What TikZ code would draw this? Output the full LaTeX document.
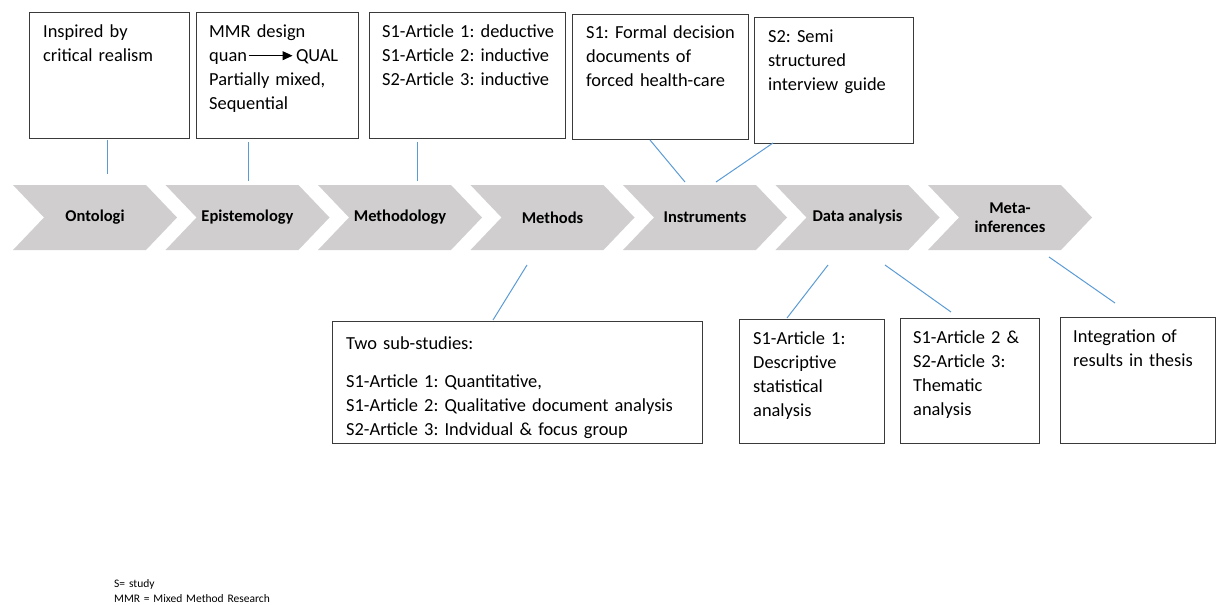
\documentclass[tikz,border=0pt]{standalone}
\usepackage{fontspec}
\setmainfont{Carlito}
\usetikzlibrary{arrows.meta,calc}
\definecolor{chevfill}{HTML}{D0CECE}
\definecolor{linkblue}{HTML}{5B9BD5}
\definecolor{boxline}{HTML}{3A3A3A}
\frenchspacing

\begin{document}
\begin{tikzpicture}[x=1pt,y=-1pt,
  frame/.style={draw=boxline, line width=1pt, fill=white, anchor=north west,
    inner sep=0pt, minimum width=#1},
  body/.style={anchor=north west, inner sep=0pt, text width=360pt, align=left,
    font=\fontsize{18.4}{24}\selectfont, execute at begin node=\strut},
  chevlab/.style={inner sep=0pt, align=center,
    font=\bfseries\fontsize{16.5}{19}\selectfont},
  link/.style={draw=linkblue, line width=1pt},
  legend/.style={anchor=north west, inner sep=0pt, text width=300pt, align=left,
    font=\fontsize{11.5}{15}\selectfont, execute at begin node=\strut}
]
\useasboundingbox (0,0) rectangle (1216,605);

% process chevrons
\foreach \i/\lab in {0/Ontologi,1/Epistemology,2/Methodology,3/Methods,
                     4/Instruments,5/Data analysis,6/{Meta-\\inferences}}{
  \pgfmathsetmacro\xo{13+152.5*\i}
  \fill[chevfill] (\xo,185) -- ++(133,0) -- ++(31,32.5) -- ++(-31,32.5)
                  -- ++(-133,0) -- ++(31,-32.5) -- cycle;
  \node[chevlab] (ch\i) at (\xo+82,217.5) {\lab};
}

% upper boxes
\node[frame=160pt, minimum height=126pt] (b1) at (29,12) {};
\node[body] (t1) at ([shift={(14,8.2)}]b1.north west)
  {Inspired by\\critical realism};

\node[frame=162pt, minimum height=126pt] (b2) at (196,12) {};
\node[body] (t2) at ([shift={(13,8.2)}]b2.north west)
  {MMR design\\
   quan\hspace{1pt}\tikz[baseline=0pt]\draw[line width=1pt,
     -{Triangle[length=10pt,width=9pt]}] (0pt,5.5pt) -- (44pt,5.5pt);\hspace{3pt}QUAL\\
   Partially mixed,\\Sequential};

\node[frame=196pt, minimum height=126pt] (b3) at (369,12) {};
\node[body] (t3) at ([shift={(13,8.2)}]b3.north west)
  {S1-Article 1: deductive\\S1-Article 2: inductive\\S2-Article 3: inductive};

\node[frame=176pt, minimum height=125pt] (b4) at (572,14) {};
\node[body] (t4) at ([shift={(14,7.2)}]b4.north west)
  {S1: Formal decision\\documents of\\forced health-care};

\node[frame=159pt, minimum height=126pt] (b5) at (754,17) {};
\node[body] (t5) at ([shift={(14,8.2)}]b5.north west)
  {S2: Semi\\structured\\interview guide};

% lower boxes
\node[frame=370pt, minimum height=122pt] (b6) at (332,321) {};
\node[body] (t6) at ([shift={(14,11.2)}]b6.north west)
  {Two sub-studies:\\[14pt]
   S1-Article 1: Quantitative,\\
   S1-Article 2: Qualitative document analysis\\
   S2-Article 3: Indvidual \& focus group};

\node[frame=145pt, minimum height=124pt] (b7) at (739,319) {};
\node[body] (t7) at ([shift={(14,8.2)}]b7.north west)
  {S1-Article 1:\\Descriptive\\statistical\\analysis};

\node[frame=139pt, minimum height=125pt] (b8) at (900,318) {};
\node[body] (t8) at ([shift={(13,8.2)}]b8.north west)
  {S1-Article 2 \&\\S2-Article 3:\\Thematic\\analysis};

\node[frame=155pt, minimum height=126pt] (b9) at (1060,317) {};
\node[body] (t9) at ([shift={(13,8.2)}]b9.north west)
  {Integration of\\results in thesis};

% connector end points
\coordinate (u1) at (107,140);  \coordinate (v1) at (107,174);
\coordinate (u2) at (248,142);  \coordinate (v2) at (248,181);
\coordinate (u3) at (417,142);  \coordinate (v3) at (417,181);
\coordinate (u4) at (650,140);  \coordinate (v4) at (685,182);
\coordinate (u5) at (773,143);  \coordinate (v5) at (716,182);
\coordinate (u6) at (527,265);  \coordinate (v6) at (493,320);
\coordinate (u7) at (828,265);  \coordinate (v7) at (787,318);
\coordinate (u8) at (885,265);  \coordinate (v8) at (951,312);
\coordinate (u9) at (1049,257); \coordinate (v9) at (1115,303);

\foreach \k in {1,...,9} { \draw[link] (u\k) -- (v\k); }

% abbreviations
\node[legend] (key) at (114,577)
  {S= study\\MMR = Mixed Method Research};
\end{tikzpicture}
\end{document}
